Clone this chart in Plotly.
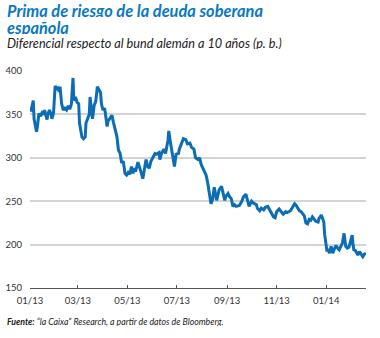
import plotly.graph_objects as go

dates = [
 "2013-01-02","2013-01-04","2013-01-05","2013-01-06","2013-01-08","2013-01-09","2013-01-10","2013-01-12","2013-01-14","2013-01-16",
 "2013-01-18","2013-01-19","2013-01-22","2013-01-23","2013-01-25","2013-01-27","2013-01-28","2013-01-30","2013-02-01","2013-02-03",
 "2013-02-04","2013-02-06","2013-02-07","2013-02-09","2013-02-11","2013-02-13","2013-02-15","2013-02-17","2013-02-19","2013-02-21",
 "2013-02-23","2013-02-24","2013-02-26","2013-02-28","2013-03-02","2013-03-03","2013-03-06","2013-03-08","2013-03-10","2013-03-11",
 "2013-03-13","2013-03-15","2013-03-16","2013-03-18","2013-03-19","2013-03-21","2013-03-23","2013-03-25","2013-03-27","2013-03-29",
 "2013-03-30","2013-04-01","2013-04-03","2013-04-06","2013-04-07","2013-04-09","2013-04-12","2013-04-14","2013-04-15","2013-04-18",
 "2013-04-20","2013-04-22","2013-04-24","2013-04-26","2013-04-28","2013-04-30","2013-05-02","2013-05-04","2013-05-06","2013-05-08",
 "2013-05-09","2013-05-11","2013-05-14","2013-05-16","2013-05-18","2013-05-20","2013-05-22","2013-05-24","2013-05-26","2013-05-28",
 "2013-05-30","2013-06-01","2013-06-04","2013-06-06","2013-06-09","2013-06-10","2013-06-12","2013-06-15","2013-06-17","2013-06-20",
 "2013-06-21","2013-06-23","2013-06-25","2013-06-27","2013-06-28","2013-06-30","2013-07-03","2013-07-04","2013-07-07","2013-07-09",
 "2013-07-12","2013-07-14","2013-07-17","2013-07-19","2013-07-22","2013-07-24","2013-07-27","2013-07-29","2013-07-31","2013-08-02",
 "2013-08-04","2013-08-06","2013-08-08","2013-08-10","2013-08-11","2013-08-12","2013-08-14","2013-08-16","2013-08-19","2013-08-20",
 "2013-08-22","2013-08-25","2013-08-27","2013-08-29","2013-08-30","2013-09-02","2013-09-04","2013-09-06","2013-09-08","2013-09-10",
 "2013-09-12","2013-09-16","2013-09-19","2013-09-21","2013-09-24","2013-09-27","2013-09-28","2013-10-01","2013-10-03","2013-10-07",
 "2013-10-08","2013-10-11","2013-10-13","2013-10-16","2013-10-18","2013-10-21","2013-10-23","2013-10-25","2013-10-28","2013-10-30",
 "2013-11-01","2013-11-04","2013-11-07","2013-11-09","2013-11-12","2013-11-14","2013-11-18","2013-11-20","2013-11-23","2013-11-25",
 "2013-11-27","2013-11-29","2013-12-01","2013-12-03","2013-12-05","2013-12-07","2013-12-09","2013-12-11","2013-12-13","2013-12-15",
 "2013-12-17","2013-12-19","2013-12-22","2013-12-23","2013-12-26","2013-12-27","2013-12-29","2013-12-30","2014-01-01","2014-01-02",
 "2014-01-03","2014-01-05","2014-01-07","2014-01-09","2014-01-11","2014-01-13","2014-01-15","2014-01-17","2014-01-19","2014-01-21",
 "2014-01-23","2014-01-25","2014-01-27","2014-01-29","2014-01-31","2014-02-02","2014-02-03","2014-02-04","2014-02-06","2014-02-09",
 "2014-02-11","2014-02-12","2014-02-15","2014-02-17","2014-02-19",
]

spread_bp = [
 353,362,366,345,332,330,335,351,348,352,
 350,355,344,350,355,350,345,352,383,378,
 382,376,382,362,355,357,355,360,356,362,
 392,366,370,364,362,340,324,322,324,340,
 345,350,370,352,345,360,365,382,378,375,
 362,355,357,336,342,345,349,340,336,325,
 309,305,294,296,282,280,283,281,290,282,
 288,284,295,290,283,276,285,298,290,288,
 296,300,305,304,306,298,305,310,305,320,
 331,318,305,292,290,304,305,310,318,322,
 321,316,317,312,310,300,298,300,292,288,
 284,280,271,260,253,247,252,266,251,256,
 263,267,258,251,255,259,255,253,244,246,
 244,245,250,255,258,248,244,250,248,246,
 242,239,242,240,243,244,240,236,232,231,
 238,241,237,235,238,237,239,242,247,245,
 242,239,238,236,233,225,224,229,228,232,
 230,227,226,230,234,231,226,212,198,192,
 195,190,198,190,195,199,196,194,198,202,
 213,198,196,197,204,211,200,194,193,188,
 192,190,186,189,190,
]

tick_dates = ["2013-01-01","2013-03-01","2013-05-01","2013-07-01","2013-09-01","2013-11-01","2014-01-01"]
tick_labels = ["01/13","03/13","05/13","07/13","09/13","11/13","01/14"]
y_ticks = [150, 200, 250, 300, 350, 400]

title_line1 = "<b><i>Prima de riesgo de la deuda soberana</i></b>"
title_line2 = "<b><i>española</i></b>"
subtitle_text = "<i>Diferencial respecto al bund alemán a 10 años (p. b.)</i>"
source_text = "<b><i>Fuente:</i></b><i> “la Caixa” Research, a partir de datos de Bloomberg.</i>"

W, H = 380, 338
ML, MR, MT, MB = 30, 14, 71, 50
PH = H - MT - MB

def py(px):
    return (H - MB - px) / PH

def pxr(px):
    return (px - ML) / (W - ML - MR)

def note(text, x, y, size, color, h):
    return dict(text=text, xref="paper", yref="paper", x=pxr(x), y=py(y),
                xanchor="left", yanchor="top", align="left", valign="middle",
                showarrow=False, borderpad=0, borderwidth=0, height=h,
                font=dict(family="Lato", size=size, color=color))

fig = go.Figure()
fig.add_trace(go.Scatter(
    x=dates, y=spread_bp, mode="lines",
    line=dict(color="#0b6db5", width=3),
    hoverinfo="skip", showlegend=False,
))

fig.update_layout(
    width=W, height=H,
    margin=dict(l=ML, r=MR, t=MT, b=MB),
    paper_bgcolor="white", plot_bgcolor="white",
    font=dict(family="Lato", size=9, color="#333333"),
    xaxis=dict(
        range=["2013-01-01", "2014-02-19"], automargin=False,
        tickmode="array", tickvals=tick_dates, ticktext=tick_labels,
        showgrid=False, showline=True, linecolor="#555555", linewidth=1,
        ticks="inside", ticklen=3, tickcolor="#555555", tickwidth=1,
        ticklabelstandoff=4,
        tickfont=dict(family="Lato", size=9.5, color="#333333"),
        zeroline=False,
    ),
    yaxis=dict(
        range=[150, 400], automargin=False,
        tickmode="array", tickvals=y_ticks,
        showgrid=True, gridcolor="#d4d4d4", gridwidth=1.5,
        showline=False, ticks="", zeroline=False,
        ticklabelstandoff=7,
        tickfont=dict(family="Lato", size=9.5, color="#333333"),
    ),
    annotations=[
        note(title_line1, 7, 3.5, 16.4, "#0a78c2", 14),
        note(title_line2, 7, 19.6, 16.4, "#0a78c2", 14),
        note(subtitle_text, 7, 37.5, 12.7, "#222222", 12),
        note(source_text, 7, 316, 8.75, "#222222", 10),
    ],
)

fig.write_html("out.html")
